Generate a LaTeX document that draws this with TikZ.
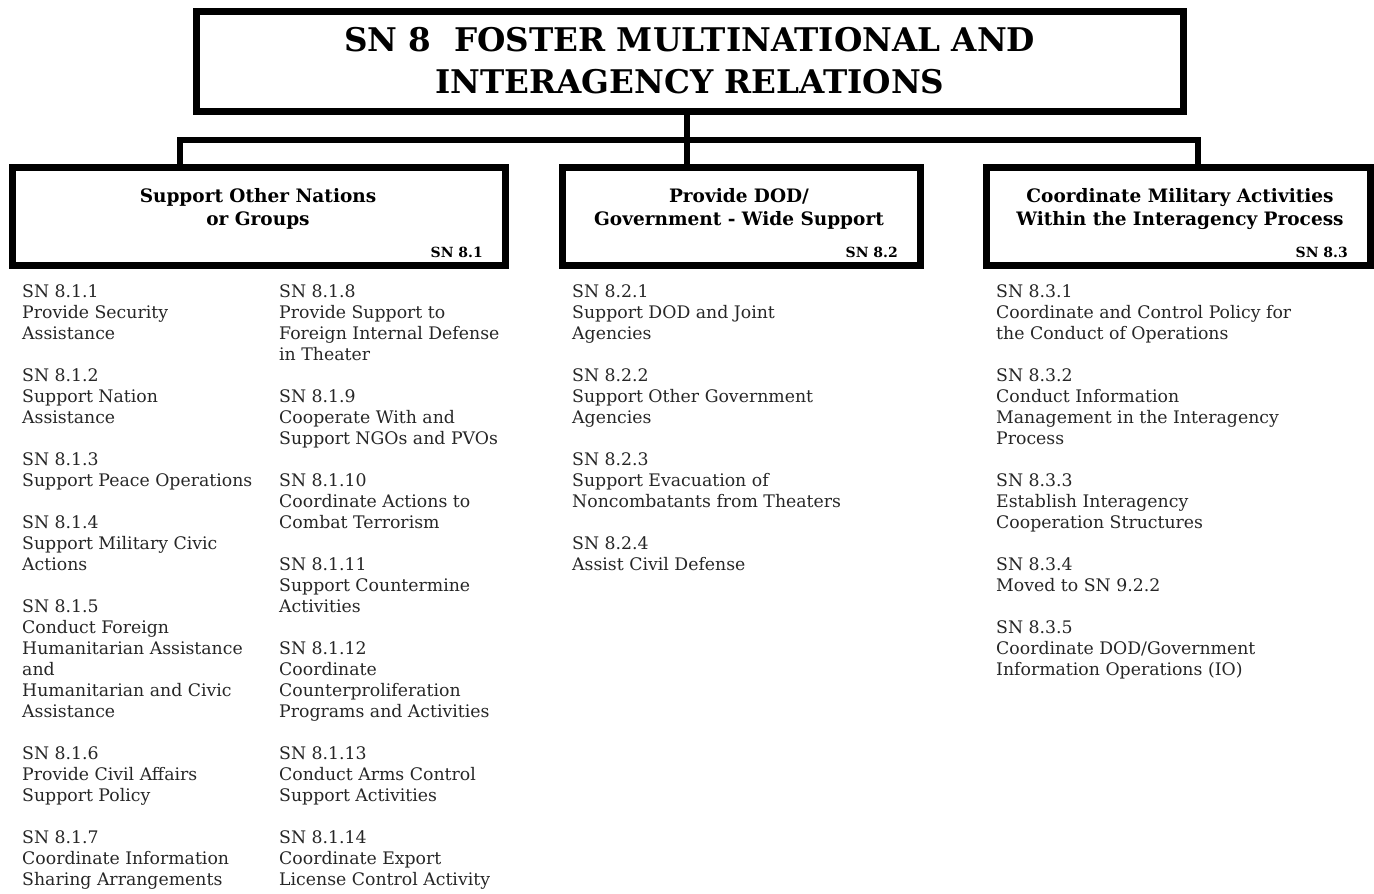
\documentclass[tikz,border=0pt]{standalone}
\usepackage{fontspec}
\setmainfont{DejaVu Serif}

\tikzset{
  box/.style={draw, line width=7pt, outer sep=0pt, inner sep=0pt, minimum height=98pt},
  conn/.style={line width=5.5pt},
  head/.style={font=\bfseries\fontsize{18.5}{23}\selectfont, align=center, anchor=base, inner sep=0pt},
  tag/.style={font=\bfseries\fontsize{14}{14}\selectfont, anchor=base east, inner sep=0pt},
  task/.style={font=\fontsize{17.3}{21}\selectfont, align=left, anchor=base west, inner sep=0pt, text=black!85}
}

\begin{document}
\begin{tikzpicture}[x=1pt,y=-1pt]
      \useasboundingbox (0,0) rectangle (1374,894);

      % top
      \node[box, minimum width=986.5pt, minimum height=100pt, align=center,
        font=\bfseries\fontsize{32.6}{42}\selectfont] (sn8) at (689.75,61)
        {SN 8~ FOSTER MULTINATIONAL AND\\INTERAGENCY RELATIONS};

      % sn8.1 to sn8.3
      \foreach \n/\cx/\w in {1/258.75/492.5, 2/741/358, 3/1178/384}
      { \node[box, minimum width=\w pt] (sn8\n) at (\cx,216) {};
        \node[tag] (tag8\n) at ([xshift=-22pt,yshift=8pt]sn8\n.south east) {SN 8.\n}; }
      % base = last line
      \node[head] (head81) at (258,225) {Support Other Nations\\or Groups};
      \node[head] (head82) at (739,225) {Provide DOD/\\Government - Wide Support};
      \node[head] (head83) at (1180,225) {Coordinate Military Activities\\Within the Interagency Process};

      % tree
      \path (180,140) coordinate (bar1) (687,140) coordinate (hub) (1198,140) coordinate (bar3);
      \draw[conn] (hub |- sn8.south) to (hub |- sn82.north);
      \draw[conn] (bar1 |- sn81.north) to (bar1) to (bar3) to (bar3 |- sn83.north);

      % lists, placed by last baseline (first one at 297, 21 apart)
      \node[task] (list1) at (22,885) {SN 8.1.1\\Provide Security\\Assistance\\[21pt]
        SN 8.1.2\\Support Nation\\Assistance\\[21pt]
        SN 8.1.3\\Support Peace Operations\\[21pt]
        SN 8.1.4\\Support Military Civic\\Actions\\[21pt]
        SN 8.1.5\\Conduct Foreign\\Humanitarian Assistance\\and\\Humanitarian and Civic\\Assistance\\[21pt]
        SN 8.1.6\\Provide Civil Affairs\\Support Policy\\[21pt]
        SN 8.1.7\\Coordinate Information\\Sharing Arrangements};
      \node[task] (list2) at (279,885) {SN 8.1.8\\Provide Support to\\Foreign Internal Defense\\in Theater\\[21pt]
        SN 8.1.9\\Cooperate With and\\Support NGOs and PVOs\\[21pt]
        SN 8.1.10\\Coordinate Actions to\\Combat Terrorism\\[21pt]
        SN 8.1.11\\Support Countermine\\Activities\\[21pt]
        SN 8.1.12\\Coordinate\\Counterproliferation\\Programs and Activities\\[21pt]
        SN 8.1.13\\Conduct Arms Control\\Support Activities\\[21pt]
        SN 8.1.14\\Coordinate Export\\License Control Activity};
      \node[task] (list3) at (572,570) {SN 8.2.1\\Support DOD and Joint\\Agencies\\[21pt]
        SN 8.2.2\\Support Other Government\\Agencies\\[21pt]
        SN 8.2.3\\Support Evacuation of\\Noncombatants from Theaters\\[21pt]
        SN 8.2.4\\Assist Civil Defense};
      \node[task] (list4) at (996,675) {SN 8.3.1\\Coordinate and Control Policy for\\the Conduct of Operations\\[21pt]
        SN 8.3.2\\Conduct Information\\Management in the Interagency\\Process\\[21pt]
        SN 8.3.3\\Establish Interagency\\Cooperation Structures\\[21pt]
        SN 8.3.4\\Moved to SN 9.2.2\\[21pt]
        SN 8.3.5\\Coordinate DOD/Government\\Information Operations (IO)};

\end{tikzpicture}
\end{document}
